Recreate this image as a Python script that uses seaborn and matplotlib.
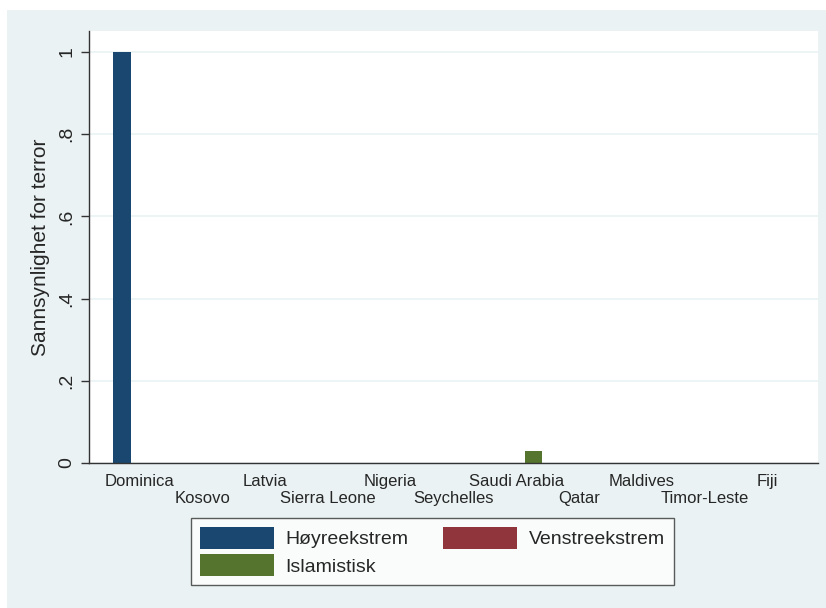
import pandas as pd
import matplotlib
matplotlib.use("Agg")
import matplotlib.pyplot as plt
import seaborn as sns

# Data
countries = ["Dominica", "Kosovo", "Latvia", "Sierra Leone", "Nigeria", "Seychelles",
             "Saudi Arabia", "Qatar", "Maldives", "Timor-Leste", "Fiji"]
hoyre = [1.0, 0, 0, 0, 0, 0, 0, 0, 0, 0, 0]
venstre = [0, 0, 0, 0, 0, 0, 0, 0, 0, 0, 0]
islamistisk = [0, 0, 0, 0, 0, 0, 0.03, 0, 0, 0, 0]
series_names = ["Høyreekstrem", "Venstreekstrem", "Islamistisk"]
colors = ["#1a476f", "#90353b", "#55752f"]
yticks = [0, 0.2, 0.4, 0.6, 0.8, 1.0]
ytick_labels = ["0", ".2", ".4", ".6", ".8", "1"]

rows = []
for name, vals in zip(series_names, [hoyre, venstre, islamistisk]):
    for c, v in zip(countries, vals):
        rows.append({"land": c, "type": name, "p": v})
df = pd.DataFrame(rows)

sns.set_style("white")
plt.rcParams["font.family"] = ["Liberation Sans", "DejaVu Sans"]

bg = "#eaf2f3"
fig = plt.figure(figsize=(8.26, 6.08), dpi=100)
fig.patch.set_facecolor("white")
# Stata-style graph region (light blue), with a thin white margin top/left
fig.patches.append(plt.Rectangle((7 / 826, 0), 1 - 7 / 826, 1 - 10 / 608,
                                 transform=fig.transFigure, facecolor=bg,
                                 edgecolor="none", zorder=-10))

ax = fig.add_axes([89 / 826, 1 - 463 / 608, (818 - 89) / 826, (463 - 31) / 608])
ax.set_facecolor("white")

sns.barplot(data=df, x="land", y="p", hue="type", order=countries,
            hue_order=series_names, palette=colors, saturation=1,
            width=0.837, linewidth=0, ax=ax)

ax.set_xlim(-0.805, 10.81)
ax.set_ylim(0, 1.051)
ax.set_yticks(yticks)
ax.set_yticklabels(ytick_labels, rotation=90, va="center", fontsize=14)
ax.yaxis.grid(True, color=bg, linewidth=1.2)
ax.set_axisbelow(True)

# staggered country labels: even ones on major ticks, odd ones on minor ticks
even = list(range(0, len(countries), 2))
odd = list(range(1, len(countries), 2))
ax.set_xticks(even)
ax.set_xticklabels([countries[i] for i in even], fontsize=12)
ax.set_xticks(odd, minor=True)
ax.set_xticklabels([countries[i] for i in odd], minor=True, fontsize=12)
ax.tick_params(axis="x", which="major", length=0, pad=8)
ax.tick_params(axis="x", which="minor", length=0, pad=20)
ax.tick_params(axis="y", length=6, width=1, color="#333333", pad=4, left=True)

ax.set_xlabel("")
ax.set_ylabel("Sannsynlighet for terror", fontsize=15, labelpad=6)

for s in ["top", "right"]:
    ax.spines[s].set_visible(False)
for s in ["left", "bottom"]:
    ax.spines[s].set_color("#333333")
    ax.spines[s].set_linewidth(1)

handles, labels = ax.get_legend_handles_labels()
ax.get_legend().remove()
order = [0, 2, 1]
leg = fig.legend([handles[i] for i in order], [labels[i] for i in order],
                 ncol=2, loc="upper left", bbox_to_anchor=(191 / 826, 1 - 518 / 608),
                 borderaxespad=0,
                 fontsize=14, handlelength=3.8, handleheight=1.35,
                 handletextpad=0.6, columnspacing=1.8, borderpad=0.45,
                 labelspacing=0.3, fancybox=False, frameon=True)
leg.get_frame().set_edgecolor("#333333")
leg.get_frame().set_linewidth(1)
leg.get_frame().set_facecolor("white")

fig.savefig("out.png", dpi=100, facecolor=fig.get_facecolor())
